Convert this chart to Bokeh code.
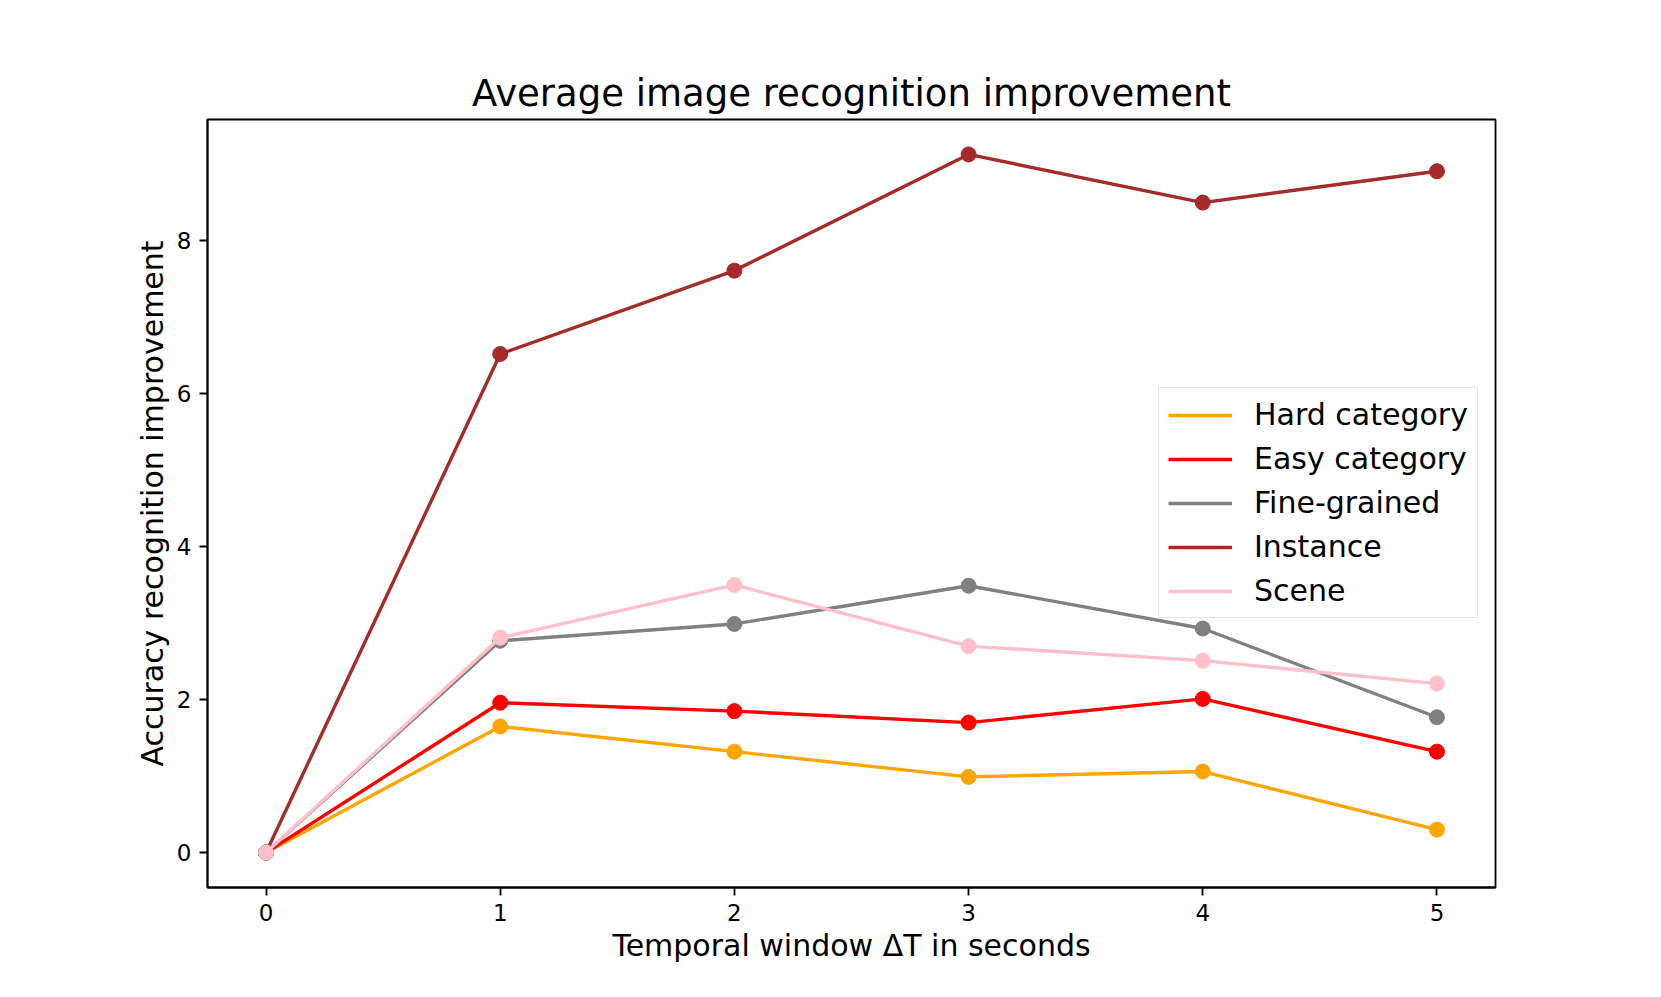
from bokeh.plotting import figure
from bokeh.models import Range1d, FixedTicker, Legend, LegendItem
from bokeh.embed import file_html
from bokeh.resources import INLINE

x = [0, 1, 2, 3, 4, 5]
hard = [0, 1.65, 1.32, 0.99, 1.06, 0.30]
easy = [0, 1.96, 1.85, 1.70, 2.01, 1.32]
fine = [0, 2.77, 2.99, 3.49, 2.93, 1.77]
instance = [0, 6.52, 7.61, 9.13, 8.50, 8.91]
scene = [0, 2.81, 3.50, 2.70, 2.51, 2.21]

series = [
    ("Hard category", hard, "orange"),
    ("Easy category", easy, "red"),
    ("Fine-grained", fine, "gray"),
    ("Instance", instance, "brown"),
    ("Scene", scene, "pink"),
]
x_ticks = [0, 1, 2, 3, 4, 5]
y_ticks = [0, 2, 4, 6, 8]

FONT = "DejaVu Sans"

p = figure(width=1645, height=981, output_backend="svg", toolbar_location=None,
           x_range=Range1d(-0.25, 5.25), y_range=Range1d(-0.4565, 9.5865),
           min_border_left=207, min_border_right=150, min_border_top=119, min_border_bottom=94,
           title="Average image recognition improvement")
p.title.text_font = FONT
p.title.text_font_size = "37px"
p.title.text_font_style = "normal"
p.title.text_color = "black"
p.title.align = "center"
p.title.standoff = 10

p.grid.visible = False
p.outline_line_color = "black"
p.outline_line_width = 1.8
p.outline_line_alpha = 1.0

for ax in (p.xaxis, p.yaxis):
    ax.axis_line_width = 1.8
    ax.major_tick_line_width = 1.8
    ax.major_tick_out = 8
    ax.major_tick_in = 0
    ax.minor_tick_line_color = None
    ax.major_label_text_font = FONT
    ax.major_label_text_font_size = "23px"
    ax.major_label_text_color = "black"
    ax.axis_label_text_font = FONT
    ax.axis_label_text_font_size = "30px"
    ax.axis_label_text_font_style = "normal"
    ax.axis_label_text_color = "black"
    ax.major_label_standoff = 8

p.xaxis.ticker = FixedTicker(ticks=x_ticks)
p.yaxis.ticker = FixedTicker(ticks=y_ticks)
p.xaxis.axis_label = "Temporal window \u0394T in seconds"
p.yaxis.axis_label = "Accuracy recognition improvement"
p.xaxis.axis_label_standoff = 4
p.yaxis.axis_label_standoff = 4

items = []
for name, ys, color in series:
    r = p.line(x, ys, line_color=color, line_width=3.4)
    p.scatter(x, ys, size=15, fill_color=color, line_color=color, marker="circle")
    items.append(LegendItem(label=name, renderers=[r]))

legend = Legend(items=items, location=(951, 269))
legend.label_text_font = FONT
legend.label_text_font_size = "30px"
legend.label_text_color = "black"
legend.glyph_width = 64
legend.glyph_height = 30
legend.label_height = 30
legend.label_standoff = 22
legend.spacing = 9
legend.padding = 9
legend.margin = 0
legend.border_line_color = "#cccccc"
legend.border_line_width = 1.8
legend.background_fill_alpha = 0.8
p.add_layout(legend, "center")

open("out.html", "w").write(file_html(p, INLINE))
